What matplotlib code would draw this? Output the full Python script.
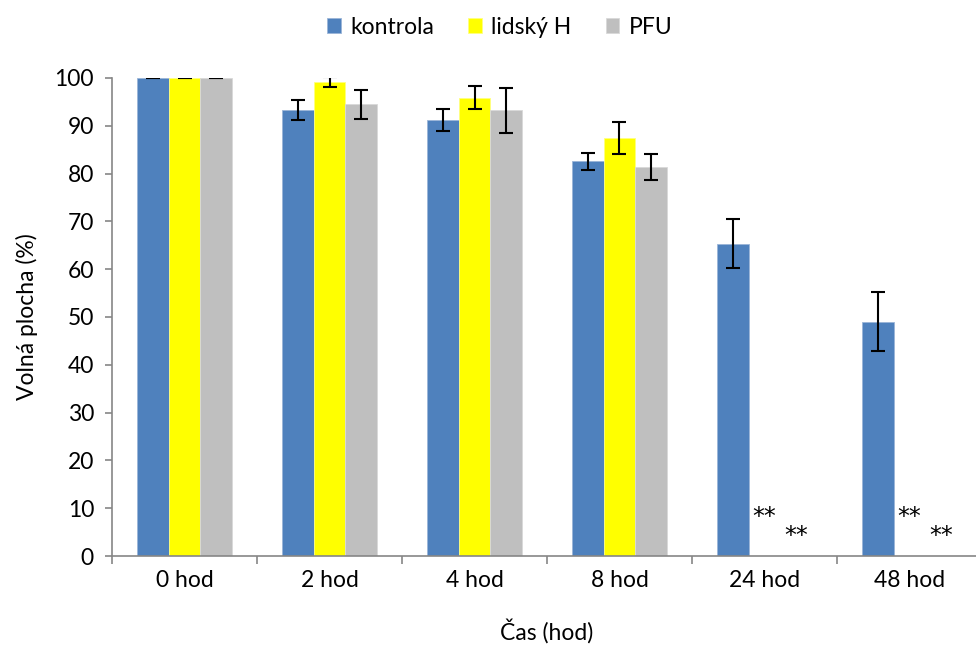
import numpy as np
import matplotlib.pyplot as plt

plt.rcParams['font.family'] = ['Lato', 'DejaVu Sans']

# data
casy = ['0 hod', '2 hod', '4 hod', '8 hod', '24 hod', '48 hod']
kontrola = [100, 93.3, 91.2, 82.6, 65.3, 49.0]
kontrola_err = [0, 2.1, 2.3, 1.8, 5.1, 6.2]
lidsky = [100, 99.2, 95.9, 87.4, 0, 0]
lidsky_err = [0, 1.0, 2.4, 3.4, 0, 0]
pfu = [100, 94.5, 93.2, 81.4, 0, 0]
pfu_err = [0, 3.0, 4.7, 2.8, 0, 0]
# hvezdicky pro 24 a 48 hod (lidsky H, PFU)
hvezd_y_lidsky = [9.2, 9.2]
hvezd_y_pfu = [5.2, 5.2]
hvezd_idx = [4, 5]

fs = 16.5
fig = plt.figure(figsize=(9.76, 6.46), dpi=100)
ax = fig.add_axes([0.1148, 0.1393, 0.8913, 0.74])

x = np.arange(len(casy))
w = 0.22
ek = dict(ecolor='black', elinewidth=1.5, capsize=5, capthick=1.5)

ax.bar(x - w, kontrola, w, color='#4F81BD', yerr=kontrola_err, error_kw=ek,
       label='kontrola', edgecolor='#9BB5D8', linewidth=0.6)
ax.bar(x, lidsky, w, color='#FFFF00', label='lidský H',
       edgecolor='#FFFF80', linewidth=0.6)
ax.errorbar(x[:4], lidsky[:4], yerr=lidsky_err[:4], fmt='none', **ek)
ax.bar(x + w, pfu, w, color='#BFBFBF', label='PFU',
       edgecolor='#D9D9D9', linewidth=0.6)
ax.errorbar(x[:4] + w, pfu[:4], yerr=pfu_err[:4], fmt='none', **ek)

for i, yl, yp in zip(hvezd_idx, hvezd_y_lidsky, hvezd_y_pfu):
    ax.text(x[i], yl - 1.1, '**', ha='center', va='center', fontsize=17,
            family='DejaVu Sans')
    ax.text(x[i] + w, yp - 1.1, '**', ha='center', va='center', fontsize=17,
            family='DejaVu Sans')

ax.set_xlim(-0.5, len(casy) - 0.5)
ax.set_ylim(0, 100)
ax.set_yticks(np.arange(0, 101, 10))
ax.set_xticks(x)
ax.set_xticklabels(casy)
ax.set_xticks(np.arange(-0.5, len(casy), 1), minor=True)
ax.tick_params(axis='x', which='major', length=0, labelsize=fs, pad=10)
ax.tick_params(axis='x', which='minor', length=6, color='#868686', width=1.2)
ax.tick_params(axis='y', length=5, color='#868686', width=1.2, labelsize=fs, pad=8)

for s in ['top', 'right']:
    ax.spines[s].set_visible(False)
for s in ['left', 'bottom']:
    ax.spines[s].set_color('#868686')
    ax.spines[s].set_linewidth(1.2)

ax.set_xlabel('Čas (hod)', fontsize=fs, labelpad=20)
ax.set_ylabel('Volná plocha (%)', fontsize=fs, labelpad=12)

fig.legend(loc='upper center', bbox_to_anchor=(0.512, 1.006), ncol=3, frameon=False,
           fontsize=fs, handlelength=0.6, handleheight=0.6, handletextpad=0.4,
           columnspacing=1.5)

plt.savefig('out.png', dpi=100)
